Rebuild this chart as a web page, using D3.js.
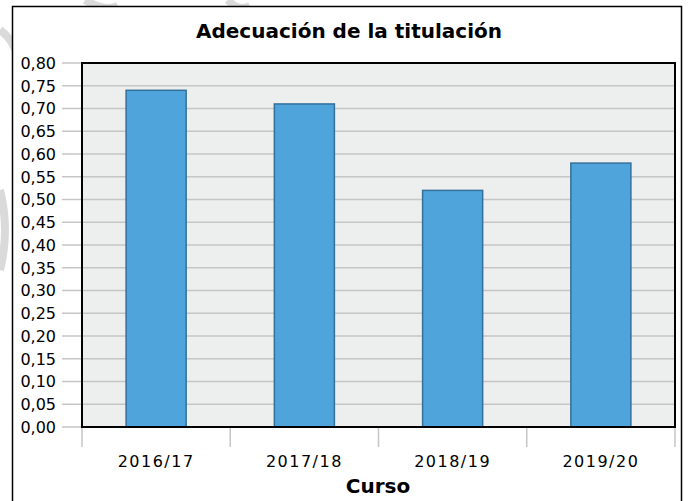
<!DOCTYPE html>
<html lang="es">
<head>
  <meta charset="UTF-8">
  <title>Adecuación de la titulación</title>
  <style>
    body {
      margin: 0;
      padding: 0;
      background: #fff;
      font-family: 'DejaVu Sans', sans-serif;
    }
  </style>
</head>
<body>

<script src="https://d3js.org/d3.v7.min.js"></script>

<script>
  // Data
  const cursos = ['2016/17', '2017/18', '2018/19', '2019/20'];
  const valores = [0.74, 0.71, 0.52, 0.58];
  const yTicks = d3.range(0, 0.8001, 0.05);

  const width = 689, height = 501;
  const plot = { left: 82, top: 63, right: 675, bottom: 427 };

  const svg = d3.select('body').append('svg')
    .attr('width', width)
    .attr('height', height);

  // faint watermark strokes behind the panel
  svg.append('g')
    .attr('fill', 'none')
    .attr('stroke', '#dadada')
    .attr('stroke-width', 8)
    .selectAll('path')
    .data([
      'M0,30 Q30,50 20,130',
      'M0,190 Q10,230 0,270',
      'M85,0 Q105,12 118,6',
      'M228,0 Q238,12 250,6'
    ])
    .join('path')
    .attr('d', d => d);

  // outer panel
  svg.append('rect')
    .attr('x', 12.5).attr('y', 6.5)
    .attr('width', 669).attr('height', 500)
    .attr('fill', '#fff')
    .attr('stroke', '#000')
    .attr('stroke-width', 1.5);

  const x = d3.scaleBand()
    .domain(cursos)
    .range([plot.left, plot.right])
    .padding(0);

  const y = d3.scaleLinear()
    .domain([0, 0.8])
    .range([plot.bottom, plot.top]);

  // plot background
  svg.append('rect')
    .attr('x', plot.left).attr('y', plot.top)
    .attr('width', plot.right - plot.left)
    .attr('height', plot.bottom - plot.top)
    .attr('fill', '#edeeee');

  // gridlines extended to the left as ticks
  svg.append('g')
    .selectAll('line')
    .data(yTicks)
    .join('line')
    .attr('x1', 62).attr('x2', plot.right)
    .attr('y1', d => y(d)).attr('y2', d => y(d))
    .attr('stroke', '#c6c6c6')
    .attr('stroke-width', 1.5);

  // y tick labels
  svg.append('g')
    .selectAll('text')
    .data(yTicks)
    .join('text')
    .attr('x', 56)
    .attr('y', d => y(d))
    .attr('dy', '0.36em')
    .attr('text-anchor', 'end')
    .attr('font-size', 16)
    .attr('fill', '#000')
    .text(d => d3.format('.2f')(d).replace('.', ','));

  // bars
  const barW = x.bandwidth() * 0.405;
  svg.append('g')
    .selectAll('rect')
    .data(cursos)
    .join('rect')
    .attr('x', d => x(d) + (x.bandwidth() - barW) / 2)
    .attr('y', (d, i) => y(valores[i]))
    .attr('width', barW)
    .attr('height', (d, i) => y(0) - y(valores[i]))
    .attr('fill', '#4fa4db')
    .attr('stroke', '#33709b')
    .attr('stroke-width', 1.5);

  // category separators below the axis
  svg.append('g')
    .selectAll('line')
    .data(cursos.map(c => x(c)).concat([plot.right]))
    .join('line')
    .attr('x1', d => d).attr('x2', d => d)
    .attr('y1', plot.bottom).attr('y2', 447)
    .attr('stroke', '#c6c6c6')
    .attr('stroke-width', 1.5);

  // plot frame
  svg.append('rect')
    .attr('x', plot.left).attr('y', plot.top)
    .attr('width', plot.right - plot.left)
    .attr('height', plot.bottom - plot.top)
    .attr('fill', 'none')
    .attr('stroke', '#000')
    .attr('stroke-width', 2);

  // x labels
  svg.append('g')
    .selectAll('text')
    .data(cursos)
    .join('text')
    .attr('x', d => x(d) + x.bandwidth() / 2)
    .attr('y', 467)
    .attr('text-anchor', 'middle')
    .attr('font-size', 16)
    .attr('letter-spacing', 1.5)
    .text(d => d);

  // axis title
  svg.append('text')
    .attr('x', 378)
    .attr('y', 493)
    .attr('text-anchor', 'middle')
    .attr('font-size', 20)
    .attr('font-weight', 'bold')
    .text('Curso');

  // chart title
  svg.append('text')
    .attr('x', 349)
    .attr('y', 38)
    .attr('text-anchor', 'middle')
    .attr('font-size', 20)
    .attr('font-weight', 'bold')
    .text('Adecuación de la titulación');
</script>

</body>
</html>
